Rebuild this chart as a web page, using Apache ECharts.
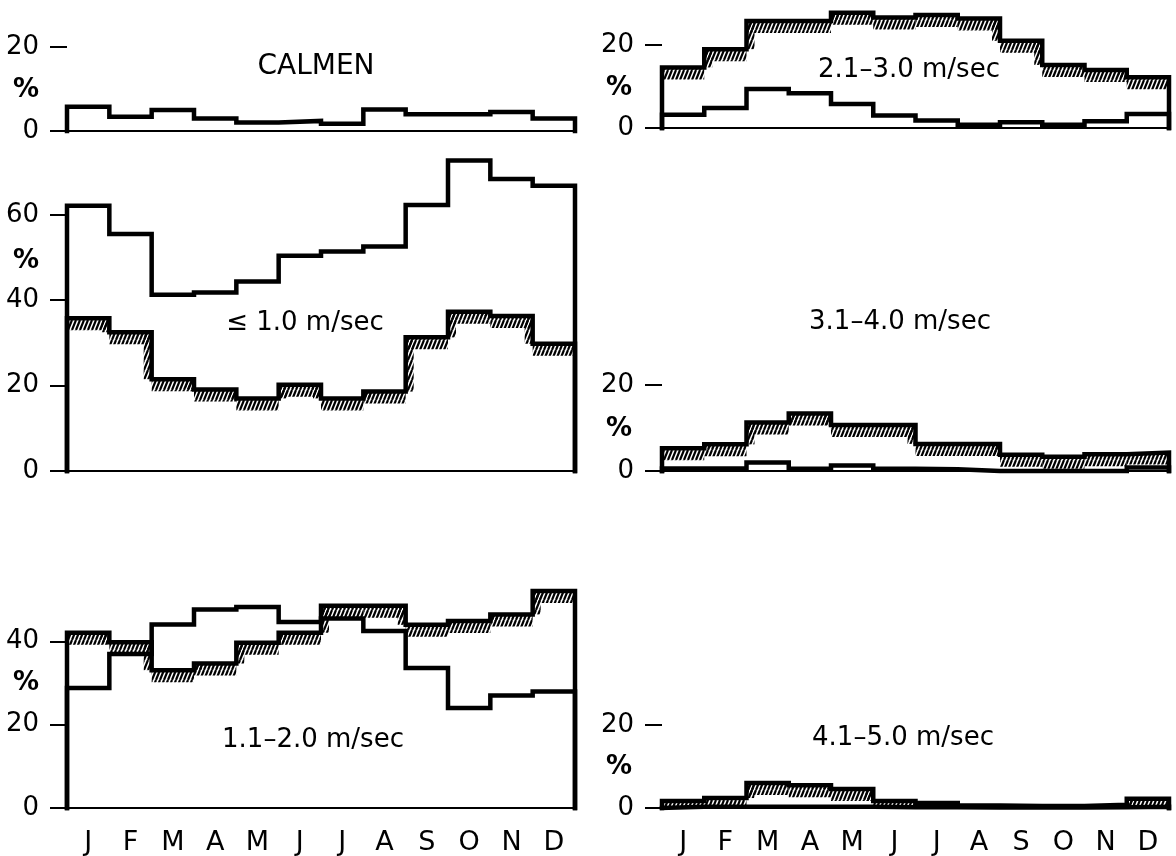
<!DOCTYPE html>
<html>
<head>
<meta charset="utf-8">
<script src="https://cdn.jsdelivr.net/npm/echarts@6/dist/echarts.min.js"></script>
<style>
html,body{margin:0;padding:0;background:#fff;}
#chart{width:1176px;height:856px;}
</style>
</head>
<body>
<div id="chart"></div>
<script>
// ---------- data (percent per month) ----------
const MONTHS = ['J','F','M','A','M','J','J','A','S','O','N','D'];

const calmen      = [5.8, 3.4, 5.0, 3.0, 2.0, 2.4, 1.7, 5.1, 4.0, 4.0, 4.5, 3.0];

const le1Plain    = [62.1, 55.5, 41.3, 41.8, 44.4, 50.4, 51.4, 52.6, 62.3, 72.7, 68.4, 66.8];
const le1Hatch    = [35.8, 32.5, 21.5, 19.1, 17.0, 20.2, 17.0, 18.6, 31.3, 37.3, 36.3, 29.8];

const s1120Plain  = [28.8, 37.0, 44.1, 47.7, 48.3, 44.7, 45.5, 42.5, 33.6, 24.0, 27.0, 28.0];
const s1120Hatch  = [42.1, 39.8, 33.1, 34.7, 39.7, 42.1, 48.6, 48.6, 44.0, 44.9, 46.5, 52.1];

const s2130Plain  = [3.2, 4.8, 9.4, 8.4, 5.8, 3.0, 1.8, 0.8, 1.4, 0.8, 1.6, 3.4];
const s2130Hatch  = [14.6, 19.0, 25.8, 25.8, 27.8, 26.6, 27.2, 26.4, 21.0, 15.2, 14.0, 12.2];

const s3140Plain  = [0.6, 0.6, 2.0, 0.5, 1.3, 0.5, 0.4, 0.0, 0.0, 0.0, 0.0, 0.8];
const s3140Hatch  = [5.3, 6.2, 11.3, 13.4, 10.7, 10.7, 6.3, 6.3, 3.8, 3.3, 3.9, 4.3];

const s4150Plain  = [0.3, 0.3, 0.3, 0.3, 0.3, 0.2, 0.2, 0.1, 0.1, 0.1, 0.2, 0.3];
const s4150Hatch  = [1.7, 2.4, 6.0, 5.5, 4.6, 1.7, 1.2, 0.6, 0.5, 0.5, 0.8, 2.2];

const ticksCalmen = [0, 20];
const ticksLe1    = [0, 20, 40, 60];
const ticks1120   = [0, 20, 40];
const ticksRight  = [0, 20];

const titles = ['CALMEN', '\u2264 1.0 m/sec', '1.1\u20132.0 m/sec', '2.1\u20133.0 m/sec', '3.1\u20134.0 m/sec', '4.1\u20135.0 m/sec'];

// ---------- layout ----------
const FONT = '"DejaVu Sans", "Liberation Sans", sans-serif';
const FS = 26;
const HATCH_D = 12;
const LW = 4.5;
// baseline y, px per %, y max, left, width
const LAYOUT = [
  {base:131, k:4.2,  max:20, left:67,  width:508},
  {base:471, k:4.27, max:75, left:67,  width:508},
  {base:810, k:4.2,  max:55, left:67,  width:508},
  {base:128, k:4.15, max:30, left:662, width:507},
  {base:471, k:4.3,  max:20, left:662, width:507},
  {base:809, k:4.2,  max:20, left:662, width:507}
];
const TICKS = [ticksCalmen, ticksLe1, ticks1120, ticksRight, ticksRight, ticksRight];
const BOTTOM = [2, 5];
const TITLE_POS = [[316,67],[305,323],[313,740],[909,70],[900,322],[903,738]];
const TITLE_FS = [28, 26, 26, 26, 26, 26];
const PCT_POS = [[26,90],[26,261],[26,683],[619,88],[619,429],[619,767]];

// hatch pattern
const pc = document.createElement('canvas');
pc.width = 4; pc.height = 10;
const pctx = pc.getContext('2d');
pctx.strokeStyle = '#000';
pctx.lineWidth = 2.2;
for (let k = -1; k <= 1; k++) {
  pctx.beginPath();
  pctx.moveTo(k * 4, 10);
  pctx.lineTo(k * 4 + 4, 0);
  pctx.stroke();
}
const PATTERN = {image: pc, repeat: 'repeat'};

function stepPoints(vals) {
  const pts = [[0, 0]];
  vals.forEach((v, i) => pts.push([i, v]));
  pts.push([vals.length, vals[vals.length - 1]]);
  pts.push([vals.length, 0]);
  return pts;
}

function lineSeries(vals, idx) {
  return {
    type: 'line', xAxisIndex: idx, yAxisIndex: idx, step: 'end',
    symbol: 'none', clip: false, silent: true, z: 3,
    data: stepPoints(vals),
    lineStyle: {color: '#000', width: LW, join: 'miter', cap: 'square'}
  };
}

function hatchSeries(vals, idx) {
  return {
    type: 'custom', xAxisIndex: idx, yAxisIndex: idx, z: 2, silent: true,
    data: vals.map((v, i) => [i, v, i < vals.length - 1 ? vals[i + 1] : v]),
    renderItem: function (params, api) {
      const i = api.value(0), v = api.value(1), vn = api.value(2);
      const p0 = api.coord([i, v]);
      const p1 = api.coord([i + 1, v]);
      const base = api.coord([i, 0])[1];
      const children = [];
      const h = Math.min(HATCH_D, base - p0[1]);
      if (h > 0) {
        children.push({type: 'rect', shape: {x: p0[0], y: p0[1], width: p1[0] - p0[0], height: h},
          style: {fill: PATTERN}});
      }
      if (vn !== v) {
        const yn = api.coord([i + 1, vn])[1];
        const w = HATCH_D - 4;
        if (v > vn) {
          children.push({type: 'rect', shape: {x: p1[0] - w, y: p0[1], width: w, height: yn - p0[1]},
            style: {fill: PATTERN}});
        } else {
          children.push({type: 'rect', shape: {x: p1[0], y: yn, width: w, height: p0[1] - yn},
            style: {fill: PATTERN}});
        }
      }
      return {type: 'group', children: children};
    }
  };
}

const grids = LAYOUT.map(L => ({
  left: L.left, width: L.width, top: L.base - L.max * L.k, height: L.max * L.k
}));

const xAxes = LAYOUT.map((L, i) => ({
  type: 'value', gridIndex: i, min: 0, max: MONTHS.length,
  axisLine: {show: true, lineStyle: {color: '#000', width: 2}},
  axisTick: {show: false},
  splitLine: {show: false},
  axisLabel: BOTTOM.includes(i) ? {
    show: true, customValues: MONTHS.map((m, j) => j + 0.5),
    formatter: v => MONTHS[Math.floor(v)], margin: 21,
    color: '#000', fontSize: 27, fontFamily: FONT
  } : {show: false}
}));

const yAxes = LAYOUT.map((L, i) => ({
  type: 'value', gridIndex: i, min: 0, max: L.max,
  axisLine: {show: false},
  splitLine: {show: false},
  axisTick: {show: true, length: 17, customValues: TICKS[i], lineStyle: {color: '#000', width: 2}},
  axisLabel: {show: true, customValues: TICKS[i], margin: 28, color: '#000', fontSize: FS, fontFamily: FONT}
}));

const series = [
  lineSeries(calmen, 0),
  hatchSeries(le1Hatch, 1), lineSeries(le1Hatch, 1), lineSeries(le1Plain, 1),
  hatchSeries(s1120Hatch, 2), lineSeries(s1120Hatch, 2), lineSeries(s1120Plain, 2),
  hatchSeries(s2130Hatch, 3), lineSeries(s2130Hatch, 3), lineSeries(s2130Plain, 3),
  hatchSeries(s3140Hatch, 4), lineSeries(s3140Hatch, 4), lineSeries(s3140Plain, 4),
  hatchSeries(s4150Hatch, 5), lineSeries(s4150Hatch, 5), lineSeries(s4150Plain, 5)
];

const graphics = [];
titles.forEach((t, i) => graphics.push({
  type: 'text', x: TITLE_POS[i][0], y: TITLE_POS[i][1], silent: true,
  style: {text: t, fill: '#000', fontSize: TITLE_FS[i], fontFamily: FONT, align: 'center', verticalAlign: 'middle'}
}));
PCT_POS.forEach(p => graphics.push({
  type: 'text', x: p[0], y: p[1], silent: true,
  style: {text: '%', fill: '#000', fontSize: FS, fontFamily: FONT, fontWeight: 'bold', align: 'center', verticalAlign: 'middle'}
}));

const chart = echarts.init(document.getElementById('chart'), null, {renderer: 'canvas'});
chart.setOption({
  backgroundColor: '#fff',
  animation: false,
  grid: grids,
  xAxis: xAxes,
  yAxis: yAxes,
  series: series,
  graphic: graphics
});
</script>
</body>
</html>
